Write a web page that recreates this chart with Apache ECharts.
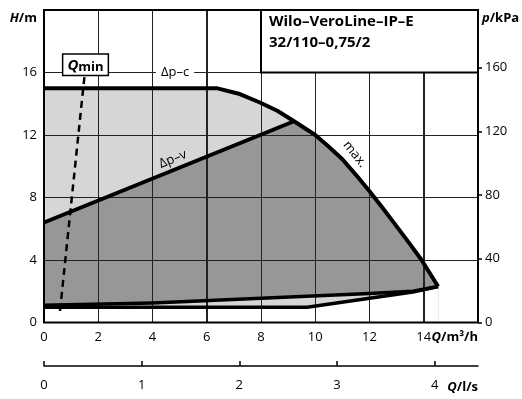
<!DOCTYPE html>
<html>
<head>
<meta charset="utf-8">
<script src="https://cdn.jsdelivr.net/npm/echarts@6/dist/echarts.min.js"></script>
<style>
  html, body { margin: 0; padding: 0; background: #fff; }
  #chart { width: 522px; height: 399px; }
</style>
</head>
<body>
<div id="chart"></div>
<script>
// Pump curve field, Q in m³/h, H in m
const dpcLine  = [[0, 15.0], [6.36, 15.0]];
const maxCurve = [[6.36, 15.0], [7.22, 14.62], [7.96, 14.08], [8.6, 13.55], [9.22, 12.88],
                  [10.0, 12.0], [10.5, 11.25], [11.0, 10.45], [11.5, 9.45], [12.0, 8.4],
                  [12.5, 7.3], [13.0, 6.15], [13.5, 5.0], [13.92, 4.0], [14.53, 2.3]];
const dpvLine  = [[0, 6.4], [9.22, 12.88]];
const minUpper = [[0, 1.1], [4, 1.25], [8, 1.55], [12, 1.85], [13.6, 2.0], [14.53, 2.3]];
const minLower = [[0, 0.97], [9.7, 0.97], [13.6, 1.95], [14.53, 2.3]];
const qminLine = [[0.59, 0.75], [1.49, 15.72]];

// Axis scales
const flowMax = 16;              // m³/h
const headMax = 20;              // m
const headStep = 4;
const flowStep = 2;
const flowGrid = [2, 4, 6, 8, 10, 12, 14];
const headGrid = [4, 8, 12, 16];
const pressureTicks = [0, 40, 80, 120, 160];   // kPa
const pressureMax = headMax * 9.81;
const litreMax = flowMax / 3.6;  // l/s

// Annotation anchors (Q, H)
const labelDpc  = [4.83, 16.0];
const labelDpv  = [4.75, 10.45];
const labelMax  = [11.46, 10.77];
const labelQmin = [1.53, 16.5];

const titleLines = ['Wilo–VeroLine–IP–E', '32/110–0,75/2'];

const FONT = 'Open Sans';
const LIGHT = '#d6d6d6', DARK = '#979797', GRIDC = '#222222';

const outerFill = dpcLine.concat(maxCurve.slice(1));
const darkFill = dpvLine.concat(maxCurve.filter(p => p[0] > dpvLine[1][0]));

// Fills sit on the bottom layer; grid, curves and text on the layer above
function fill(data, color) {
  return { type: 'line', data, symbol: 'none', zlevel: 0, z: 2, silent: true,
    lineStyle: { width: 0, opacity: 0 },
    areaStyle: { color, opacity: 1, origin: 0 } };
}
function stroke(data, width, type) {
  return { type: 'line', data, symbol: 'none', zlevel: 1, z: 4, silent: true,
    lineStyle: { color: '#000', width, type: type || 'solid', cap: 'butt', join: 'round' } };
}

const splitStyle = { show: true, lineStyle: { color: GRIDC, width: 1, type: 'solid', opacity: 1 } };

const chart = echarts.init(document.getElementById('chart'));

chart.setOption({
  animation: false,
  grid: [
    { left: 44, top: 10, width: 434, height: 312.5, show: false },
    { left: 44, top: 366, width: 434, height: 0, show: false }
  ],
  xAxis: [
    { gridIndex: 0, type: 'value', min: 0, max: flowMax, interval: flowStep, zlevel: 1, z: 1,
      axisLine: { show: false }, axisTick: { show: false }, splitLine: splitStyle,
      axisLabel: { fontFamily: FONT, fontSize: 13, color: '#000', margin: 8, showMaxLabel: false } },
    { gridIndex: 1, type: 'value', min: 0, max: litreMax, interval: 1, position: 'bottom', zlevel: 1,
      axisLine: { show: true, lineStyle: { color: '#000', width: 1.5 } },
      axisTick: { show: true, inside: true, length: 5, lineStyle: { color: '#000', width: 1.5 } },
      splitLine: { show: false },
      axisLabel: { fontFamily: FONT, fontSize: 13, color: '#000', margin: 13, showMaxLabel: false } }
  ],
  yAxis: [
    { gridIndex: 0, type: 'value', position: 'left', min: 0, max: headMax, interval: headStep, zlevel: 1, z: 1,
      axisLine: { show: false }, axisTick: { show: false }, splitLine: splitStyle,
      axisLabel: { fontFamily: FONT, fontSize: 13, color: '#000', margin: 7, showMaxLabel: false } },
    { gridIndex: 0, type: 'value', position: 'right', min: 0, max: pressureMax, zlevel: 1,
      axisLine: { show: false },
      axisTick: { show: true, length: 4, customValues: pressureTicks, lineStyle: { color: '#000', width: 1.5 } },
      splitLine: { show: false },
      axisLabel: { fontFamily: FONT, fontSize: 13, color: '#000', margin: 7, customValues: pressureTicks } },
    { gridIndex: 1, type: 'value', show: false }
  ],
  series: [
    fill(outerFill, LIGHT),
    fill(darkFill, DARK),
    fill(minUpper, LIGHT),
    fill(minLower, '#fff'),
    stroke(outerFill, 4),
    stroke(dpvLine, 4),
    stroke(minUpper, 3.5),
    stroke(minLower, 3.5),
    stroke(qminLine, 2.5, [7, 5])
  ]
});

// Grid bars, frame, title box, curve labels and axis names, placed through the axis scales
const conv = p => chart.convertToPixel({ xAxisIndex: 0, yAxisIndex: 0 }, p);
const boxA = conv([8, headMax]);
const boxB = conv([flowMax, 16]);
const origin = conv([0, 0]);
const corner = conv([flowMax, headMax]);
const litreAxisY = chart.convertToPixel({ xAxisIndex: 1, yAxisIndex: 2 }, [0, 0])[1];

const gridGraphics = flowGrid.map(q => {
  const x = Math.round(conv([q, 0])[0] - 0.5);
  return { type: 'rect', zlevel: 1, z: 3, silent: true,
    shape: { x: x, y: corner[1], width: 1, height: origin[1] - corner[1] },
    style: { fill: GRIDC, stroke: null } };
}).concat(headGrid.map(h => {
  const y = Math.round(conv([0, h])[1] - 0.5);
  return { type: 'rect', zlevel: 1, z: 3, silent: true,
    shape: { x: origin[0], y: y, width: corner[0] - origin[0], height: 1 },
    style: { fill: GRIDC, stroke: null } };
}));

const nameRich = {
  i: { fontFamily: FONT, fontSize: 13, fontWeight: 'bold', fontStyle: 'italic', fill: '#000' },
  b: { fontFamily: FONT, fontSize: 13, fontWeight: 'bold', fill: '#000' }
};
const plainFont = '13px "' + FONT + '"';

function curveLabel(at, text, rotation, extra) {
  const p = conv(at);
  return { type: 'text', zlevel: 1, z: 8, silent: true, x: p[0], y: p[1],
    rotation: rotation * Math.PI / 180,
    style: Object.assign({ text, font: plainFont, fill: '#000', align: 'center', verticalAlign: 'middle' }, extra || {}) };
}

chart.setOption({
  graphic: {
    elements: gridGraphics.concat([
      { type: 'rect', zlevel: 1, z: 6, silent: true,
        shape: { x: origin[0], y: corner[1], width: corner[0] - origin[0], height: origin[1] - corner[1] },
        style: { fill: null, stroke: '#000', lineWidth: 2 } },
      { type: 'rect', zlevel: 1, z: 10, silent: true,
        shape: { x: boxA[0], y: boxA[1], width: boxB[0] - boxA[0], height: boxB[1] - boxA[1] },
        style: { fill: '#fff', stroke: '#000', lineWidth: 2 } },
      { type: 'text', zlevel: 1, z: 11, silent: true, x: boxA[0] + 8, y: boxA[1] + 12,
        style: { text: titleLines[0], font: 'bold 15px "' + FONT + '"', fill: '#000', verticalAlign: 'middle' } },
      { type: 'text', zlevel: 1, z: 11, silent: true, x: boxA[0] + 8, y: boxA[1] + 33,
        style: { text: titleLines[1], font: 'bold 15px "' + FONT + '"', fill: '#000', verticalAlign: 'middle' } },
      curveLabel(labelDpc, 'Δp–c', 0, { backgroundColor: '#fff', padding: [1, 5] }),
      curveLabel(labelDpv, 'Δp–v', 22),
      curveLabel(labelMax, 'max.', -52),
      curveLabel(labelQmin, '{q|Q}{m|min}', 0, {
        backgroundColor: '#fff', borderColor: '#000', borderWidth: 1.5, padding: [3, 4, 1, 4],
        rich: {
          q: { fontFamily: FONT, fontSize: 15, fontWeight: 'bold', fontStyle: 'italic', fill: '#000' },
          m: { fontFamily: FONT, fontSize: 13, fontWeight: 'bold', fill: '#000', padding: [3, 0, 0, 0] }
        } }),
      { type: 'text', zlevel: 1, z: 11, silent: true, x: origin[0] - 7, y: corner[1] + 8,
        style: { text: '{i|H}{b|/m}', rich: nameRich, align: 'right', verticalAlign: 'middle' } },
      { type: 'text', zlevel: 1, z: 11, silent: true, x: corner[0] + 4, y: corner[1] + 8,
        style: { text: '{i|p}{b|/kPa}', rich: nameRich, align: 'left', verticalAlign: 'middle' } },
      { type: 'text', zlevel: 1, z: 11, silent: true, x: corner[0], y: origin[1] + 15,
        style: { text: '{i|Q}{b|/m³/h}', rich: nameRich, align: 'right', verticalAlign: 'middle' } },
      { type: 'text', zlevel: 1, z: 11, silent: true, x: corner[0], y: litreAxisY + 21,
        style: { text: '{i|Q}{b|/l/s}', rich: nameRich, align: 'right', verticalAlign: 'middle' } }
    ])
  }
});
</script>
</body>
</html>
